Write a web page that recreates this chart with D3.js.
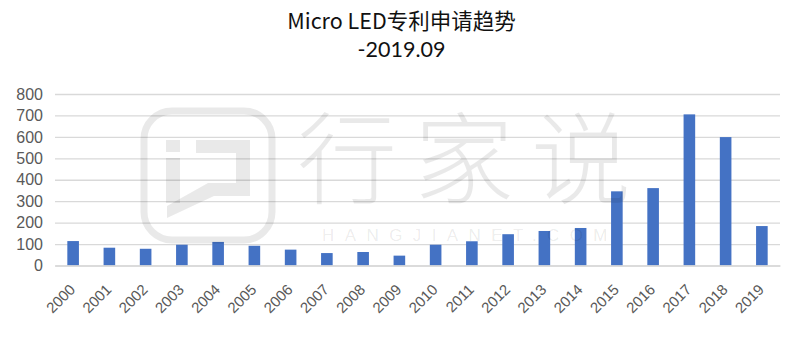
<!DOCTYPE html>
<html>
<head>
<meta charset="utf-8">
<script src="https://cdn.jsdelivr.net/npm/d3@7"></script>
<style>
  html, body { margin: 0; padding: 0; background: #fff; }
  svg { display: block; }
</style>
</head>
<body>
<script>
// Micro LED patent filings per year, up to 2019.09
const years = ["2000","2001","2002","2003","2004","2005","2006","2007","2008","2009",
               "2010","2011","2012","2013","2014","2015","2016","2017","2018","2019"];
const filings = [114, 83, 78, 97, 110, 92, 74, 58, 63, 46,
                 97, 113, 146, 161, 175, 346, 361, 705, 599, 184];
const yTicks = [0, 100, 200, 300, 400, 500, 600, 700, 800];
const titleLines = ["Micro LED专利申请趋势", "-2019.09"];

const W = 800, H = 340;
const margin = { top: 94, right: 20, bottom: 74.5, left: 55 };

const svg = d3.select("body").append("svg")
  .attr("width", W).attr("height", H);

const x = d3.scaleBand()
  .domain(years)
  .range([margin.left, W - margin.right])
  .paddingInner(0.68)
  .paddingOuter(0.34);

const y = d3.scaleLinear()
  .domain([0, 800])
  .range([H - margin.bottom, margin.top]);

// Two-line title
const titleFonts = ["'Noto Sans CJK SC', 'Noto Sans', sans-serif", "Lato, 'Liberation Sans', sans-serif"];
svg.append("g").selectAll("text")
  .data(titleLines)
  .join("text")
  .attr("x", 401.5)
  .attr("y", (d, i) => 28.5 + i * 28)
  .attr("text-anchor", "middle")
  .attr("font-family", (d, i) => titleFonts[i])
  .attr("font-size", 21.5)
  .attr("fill", "#111")
  .text(d => d);

// Horizontal gridlines and value labels
const yAxis = d3.axisLeft(y)
  .tickValues(yTicks)
  .tickSize(-(W - margin.right - margin.left))
  .tickPadding(12);

const gy = svg.append("g")
  .attr("transform", `translate(${margin.left},0)`)
  .call(yAxis);
gy.select(".domain").remove();
gy.selectAll(".tick line").attr("stroke", "#d9d9d9").attr("stroke-width", 1.3);
gy.selectAll(".tick text")
  .attr("font-family", "'Liberation Sans', Arial, sans-serif")
  .attr("font-size", 16)
  .attr("fill", "#595959");

// Bars
svg.append("g").selectAll("rect")
  .data(years.map((yr, i) => ({ yr, v: filings[i] })))
  .join("rect")
  .attr("x", d => x(d.yr))
  .attr("width", x.bandwidth())
  .attr("y", d => y(d.v))
  .attr("height", d => y(0) - y(d.v))
  .attr("fill", "#4472c4");

// Category axis with rotated year labels
const xAxis = d3.axisBottom(x).tickSize(0).tickPadding(0);
const gx = svg.append("g")
  .attr("transform", `translate(0,${y(0)})`)
  .call(xAxis);
gx.select(".domain").attr("stroke", "#d9d9d9").attr("stroke-width", 1.3);
gx.selectAll(".tick text")
  .attr("font-family", "'Liberation Sans', Arial, sans-serif")
  .attr("font-size", 15)
  .attr("fill", "#595959")
  .attr("text-anchor", "end")
  .attr("dy", null)
  .attr("y", 0)
  .attr("transform", "translate(3,25) rotate(-45)");

// Site watermark drawn over the plot
const wm = svg.append("g").attr("fill", "#000").attr("fill-opacity", 0.085);
wm.append("rect")
  .attr("x", 144).attr("y", 111).attr("width", 128).attr("height", 129)
  .attr("rx", 28)
  .attr("fill", "none")
  .attr("stroke", "#000").attr("stroke-opacity", 0.085).attr("stroke-width", 7);
wm.append("rect").attr("x", 166).attr("y", 140).attr("width", 14).attr("height", 12);
wm.append("rect").attr("x", 166).attr("y", 158).attr("width", 14).attr("height", 45);
wm.append("path")
  .attr("d", "M196,140 H250 V196 H214 L167,218 V206 L208,183 H236 V153 H196 Z");
wm.append("text")
  .attr("x", 472.5).attr("y", 196)
  .attr("text-anchor", "middle")
  .attr("font-family", "'Noto Sans CJK SC', sans-serif")
  .attr("font-weight", 300)
  .attr("font-size", 100)
  .attr("letter-spacing", 17)
  .text("行家说");
wm.append("text")
  .attr("x", 470).attr("y", 241)
  .attr("text-anchor", "middle")
  .attr("font-family", "'Liberation Sans', Arial, sans-serif")
  .attr("font-size", 17)
  .attr("letter-spacing", 10.4)
  .text("HANGJIANET.COM");
</script>
</body>
</html>
